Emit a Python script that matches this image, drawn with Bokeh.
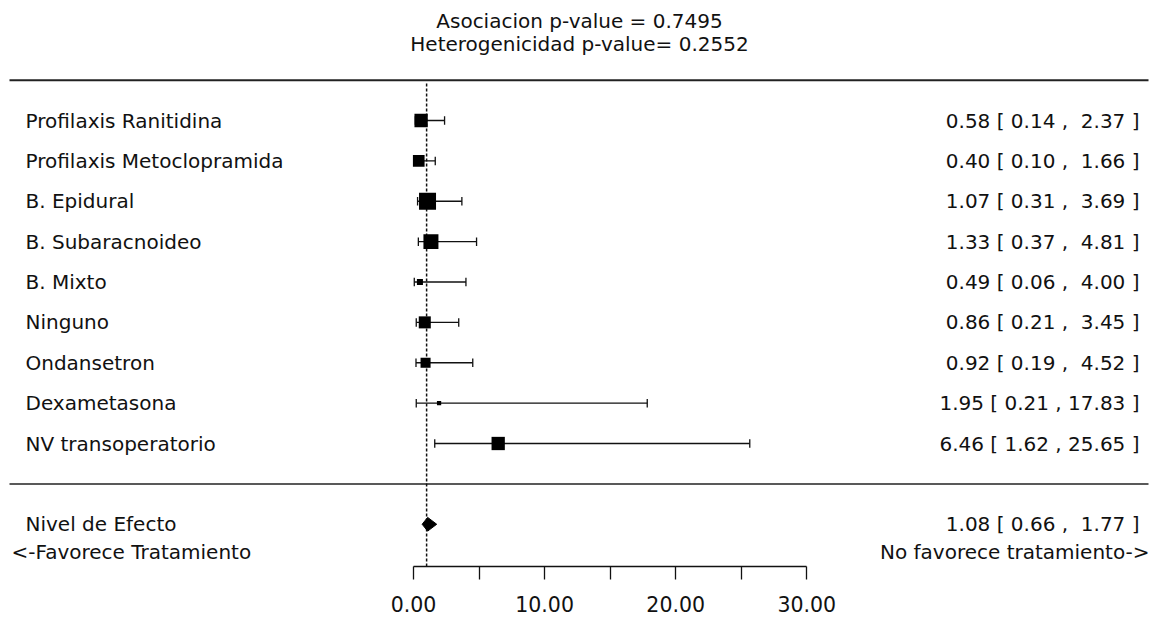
from bokeh.plotting import figure
from bokeh.models import ColumnDataSource, Whisker, TeeHead, FixedTicker, Range1d, Span
from bokeh.core.properties import value
from bokeh.embed import file_html
from bokeh.resources import INLINE

# ---------------- data ----------------
titulo_1 = "Asociacion p-value = 0.7495"
titulo_2 = "Heterogenicidad p-value= 0.2552"
estudios = ["Profilaxis Ranitidina", "Profilaxis Metoclopramida", "B. Epidural",
            "B. Subaracnoideo", "B. Mixto", "Ninguno", "Ondansetron",
            "Dexametasona", "NV transoperatorio"]
or_est = [0.58, 0.40, 1.07, 1.33, 0.49, 0.86, 0.92, 1.95, 6.46]
ic_inf = [0.14, 0.10, 0.31, 0.37, 0.06, 0.21, 0.19, 0.21, 1.62]
ic_sup = [2.37, 1.66, 3.69, 4.81, 4.00, 3.45, 4.52, 17.83, 25.65]
pesos = [2.00, 1.78, 2.50, 2.23, 1.02, 1.83, 1.56, 0.78, 2.00]
resumen_etiqueta = "Nivel de Efecto"
resumen_est = 1.08
resumen_inf = 0.66
resumen_sup = 1.77
nota_izq = "<-Favorece Tratamiento"
nota_der = "No favorece tratamiento->"
valor_nulo = 1
ticks_x = [0, 5, 10, 15, 20, 25, 30]
etiquetas_x = ["0.00", "", "10.00", "", "20.00", "", "30.00"]

# ---------------- layout helpers ----------------
FONT = value("DejaVu Sans")
FS = "20px"
INK = "#111111"
FIG_W, FIG_H = 1153, 619
BORDER_B = 53
PAGE_OFF = 0
X0_PX, PX_PER_X = 413, 13.11     # pixel of x=0, pixels per unit
Y1_PX, PX_PER_ROW = 443, 40.375  # pixel of row 1, pixels per row


def px_to_x(px):
    return (px - X0_PX) / PX_PER_X


def py_to_y(py):
    return 1 - (py - Y1_PX) / PX_PER_ROW


k = len(estudios)
filas = list(range(k, 0, -1))

x_start = px_to_x(PAGE_OFF)
x_end = px_to_x(PAGE_OFF + FIG_W)
y_top = py_to_y(PAGE_OFF)
y_bot = py_to_y(PAGE_OFF + FIG_H - BORDER_B)

p = figure(width=FIG_W, height=FIG_H, output_backend="svg", toolbar_location=None,
           x_range=Range1d(x_start, x_end), y_range=Range1d(y_bot, y_top),
           min_border_left=0, min_border_right=0, min_border_top=0,
           min_border_bottom=BORDER_B, outline_line_color=None,
           background_fill_color="white", border_fill_color="white")
p.grid.visible = False
p.yaxis.visible = False

# x axis
ax = p.xaxis[0]
ax.ticker = FixedTicker(ticks=ticks_x, minor_ticks=[])
ax.major_label_overrides = {t: lab for t, lab in zip(ticks_x, etiquetas_x)}
ax.bounds = (ticks_x[0], ticks_x[-1])
ax.axis_line_color = INK
ax.axis_line_width = 1.3
ax.major_tick_line_color = INK
ax.major_tick_line_width = 1.3
ax.major_tick_out = 13
ax.major_tick_in = 0
ax.minor_tick_line_color = None
ax.major_label_standoff = 16
ax.major_label_text_font = "DejaVu Sans"
ax.major_label_text_font_size = "20.5px"
ax.major_label_text_color = INK

# horizontal rules
p.segment(x0=[px_to_x(9)], y0=[k + 1], x1=[px_to_x(1148)], y1=[k + 1],
          line_color="#222222", line_width=2)
p.segment(x0=[px_to_x(9)], y0=[0], x1=[px_to_x(1148)], y1=[0],
          line_color="#222222", line_width=1.5)

# reference line
p.segment(x0=[valor_nulo], y0=[y_bot], x1=[valor_nulo], y1=[k + 1 - 0.08],
          line_color=INK, line_width=1.5, line_dash="3 2")

# studies
wmin, wmax = min(pesos), max(pesos)
tam = [(0.5 + 1.5 * (w - wmin) / (wmax - wmin)) * 8.5 for w in pesos]


def fmt(e, lo, hi):
    hi_s = ("\u00a0" if hi < 10 else "") + f"{hi:.2f}"
    return f"{e:.2f} [ {lo:.2f} , {hi_s} ]"


src = ColumnDataSource(dict(y=filas, est=or_est, lo=ic_inf, hi=ic_sup, size=tam,
                            lab=estudios,
                            txt=[fmt(e, lo, hi) for e, lo, hi in zip(or_est, ic_inf, ic_sup)]))

p.add_layout(Whisker(source=src, base="y", lower="lo", upper="hi", dimension="width",
                     line_color=INK, line_width=1.3,
                     lower_head=TeeHead(size=8.5, line_color=INK, line_width=1.3),
                     upper_head=TeeHead(size=8.5, line_color=INK, line_width=1.3)))
p.scatter(x="est", y="y", size="size", marker="square", source=src,
          fill_color="black", line_color="black", line_width=0)

p.text(x=px_to_x(25), y="y", text="lab", source=src, text_font=FONT, text_font_size=FS,
       text_color=INK, text_align="left", text_baseline="middle")
p.text(x=px_to_x(1139), y="y", text="txt", source=src, text_font=FONT, text_font_size=FS,
       text_color=INK, text_align="right", text_baseline="middle")

# summary
h = 0.17
p.patch(x=[resumen_inf, resumen_est, resumen_sup, resumen_est],
        y=[-1, -1 + h, -1, -1 - h], fill_color="black", line_color="black", line_width=1)
p.text(x=[px_to_x(25)], y=[-1], text=[resumen_etiqueta], text_font=FONT, text_font_size=FS,
       text_color=INK, text_align="left", text_baseline="middle")
p.text(x=[px_to_x(1139)], y=[-1], text=[fmt(resumen_est, resumen_inf, resumen_sup)],
       text_font=FONT, text_font_size=FS, text_color=INK, text_align="right",
       text_baseline="middle")
p.text(x=[px_to_x(11)], y=[py_to_y(551)], text=[nota_izq], text_font=FONT, text_font_size=FS,
       text_color=INK, text_align="left", text_baseline="middle")
p.text(x=[px_to_x(1149)], y=[py_to_y(551)], text=[nota_der], text_font=FONT,
       text_font_size=FS, text_color=INK, text_align="right", text_baseline="middle")

# titles
p.text(x=[px_to_x(579)] * 2, y=[py_to_y(20), py_to_y(43)], text=[titulo_1, titulo_2],
       text_font=FONT, text_font_size=FS, text_color=INK, text_align="center",
       text_baseline="middle")

open("out.html", "w").write(file_html(p, INLINE))
